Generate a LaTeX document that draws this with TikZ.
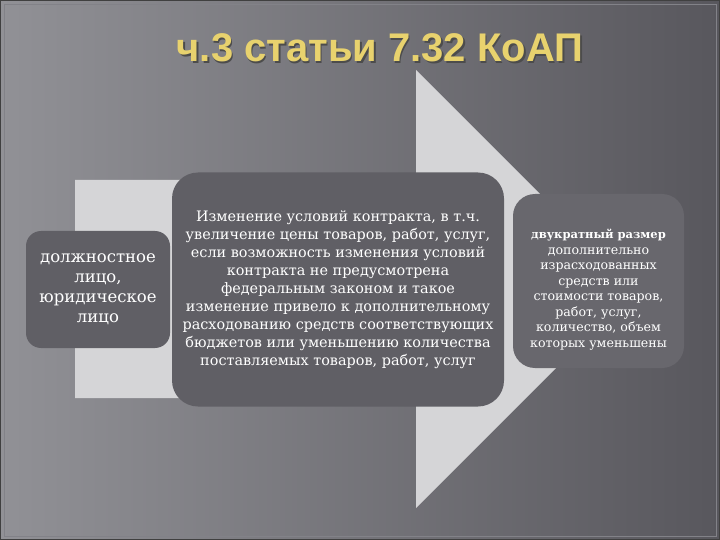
\documentclass[tikz,border=0pt]{standalone}
\usepackage{fontspec}
\setmainfont{DejaVu Serif}
\newfontfamily\titlefont{Liberation Sans}
\definecolor{bglight}{RGB}{145,145,150}
\definecolor{bgmid}{RGB}{112,111,117}
\definecolor{bgdark}{RGB}{88,87,93}
\definecolor{framegray}{RGB}{130,130,136}
\definecolor{arrowgray}{RGB}{213,213,215}
\definecolor{boxgray}{RGB}{96,95,101}
\definecolor{boxlight}{RGB}{104,103,109}
\definecolor{titlegold}{RGB}{232,210,110}
\begin{document}
\begin{tikzpicture}[x=1pt,y=-1pt,
box/.style={
% The shape:
rectangle,
fill=boxgray,
text=white,
align=center,
inner sep=0pt
},
heading/.style={
text=titlegold,
font=\titlefont\bfseries\fontsize{40}{44}\selectfont,
anchor=base
}
]
\useasboundingbox (0,0) rectangle (720,540);
% background and frame
\shade[left color=bglight, middle color=bgmid, right color=bgdark] (0,0) rectangle (720,540);
\draw[black!75, line width=2pt] (0,0) rectangle (720,540);
\draw[framegray, line width=0.8pt] (4,4) rectangle (716,536);
% the big arrow
\fill[arrowgray] (75,180) -- (416,180) -- (416,70) -- (635,289) -- (416,508) -- (416,398) -- (75,398) -- cycle;
% title
\node[heading, text=black!70] (shadow) at (381.5,63.5) {ч.3 статьи 7.32 КоАП};
\node[heading] (title) at (380,62) {ч.3 статьи 7.32 КоАП};
% boxes
\node (who) [box, minimum width=144pt, minimum height=117pt, rounded corners=15pt,
  font=\fontsize{16.5}{20}\selectfont] at (98,289.5)
  {должностное\\лицо,\\юридическое\\лицо};
\node (act) [box, minimum width=332pt, minimum height=234pt, rounded corners=26pt,
  font=\fontsize{14.4}{18}\selectfont] at (338,289.5)
  {Изменение условий контракта, в т.ч.\\увеличение цены товаров, работ, услуг,\\если возможность изменения условий\\контракта не предусмотрена\\федеральным законом и такое\\изменение привело к дополнительному\\расходованию средств соответствующих\\бюджетов или уменьшению количества\\поставляемых товаров, работ, услуг};
% text sits a little low in this box
\node (fine) [box, fill=boxlight, minimum width=171pt, minimum height=174pt, rounded corners=22pt,
  font=\fontsize{12.6}{15.5}\selectfont] at (598.5,281)
  {\rule{0pt}{27pt}{\fontsize{11.5}{15.5}\selectfont\bfseries двукратный размер}\\дополнительно\\израсходованных\\средств или\\стоимости товаров,\\работ, услуг,\\количество, объем\\которых уменьшены};
\end{tikzpicture}
\end{document}
